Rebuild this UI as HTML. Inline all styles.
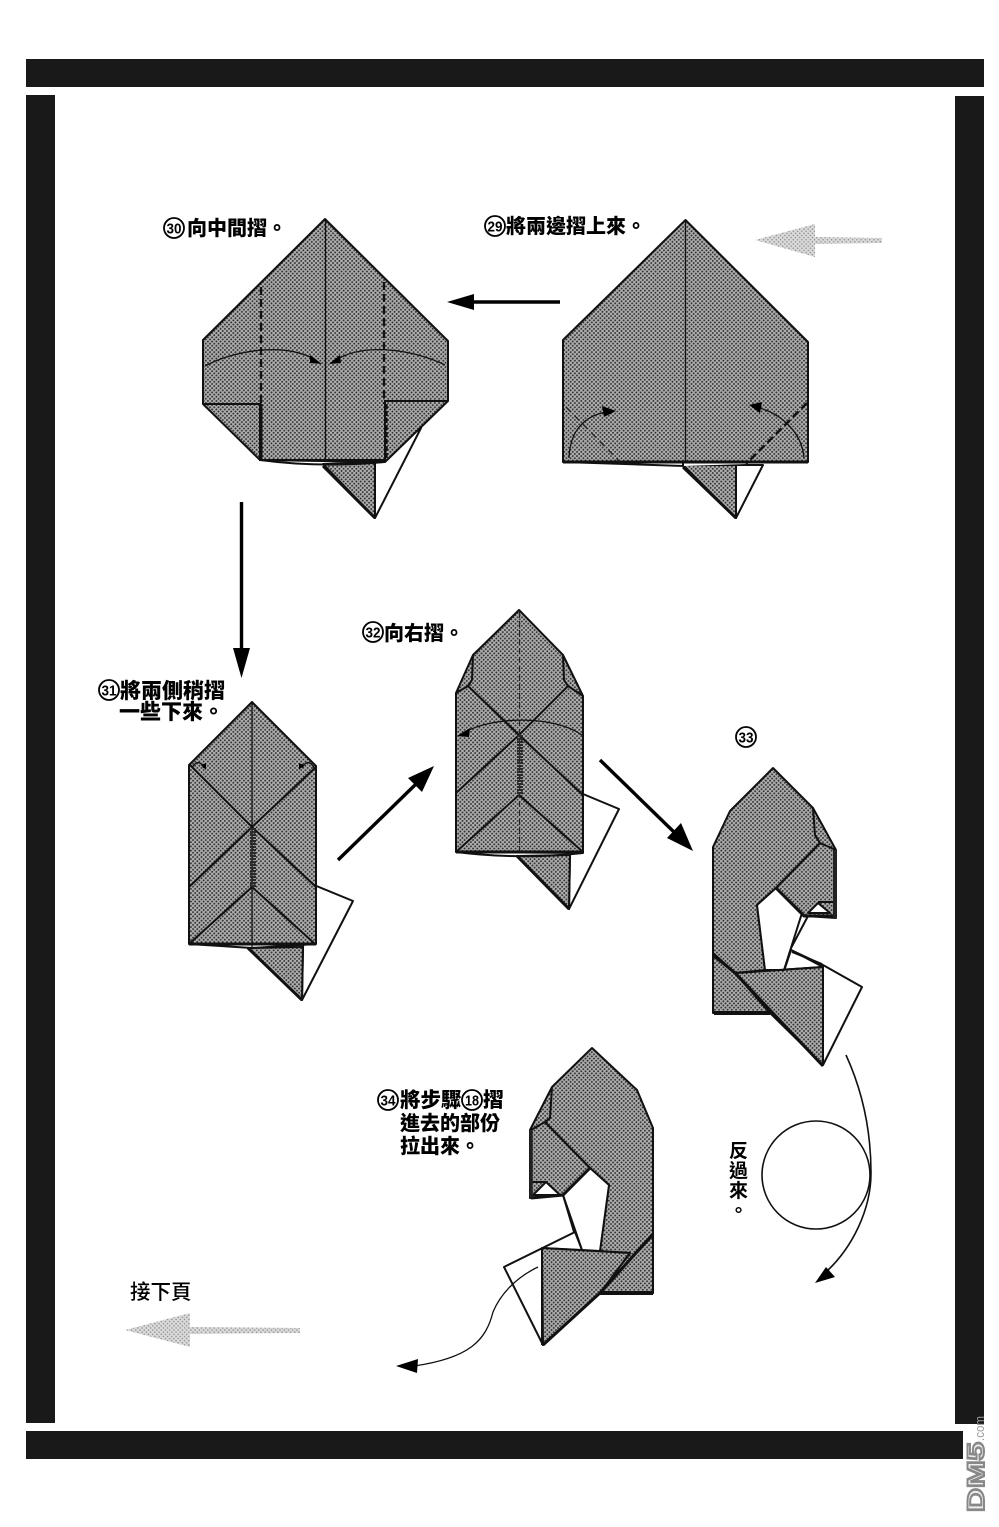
<!DOCTYPE html>
<html><head><meta charset="utf-8"><style>
html,body{margin:0;padding:0;background:#fff}
svg{display:block}
text{font-family:"Liberation Sans","Noto Sans CJK TC","Noto Sans CJK JP",sans-serif;font-weight:900;font-size:20px;fill:#000}
text.n{font-family:"Liberation Sans",sans-serif;font-weight:700;font-size:15px;text-anchor:middle}
.c{fill:#fff;stroke:#000;stroke-width:1.8}
.o{fill:url(#h);stroke:#111;stroke-width:2;stroke-linejoin:round}
.w{fill:#fff;stroke:#111;stroke-width:2;stroke-linejoin:round}
.l{fill:none;stroke:#111;stroke-width:2}
.t{fill:none;stroke:#111;stroke-width:1.3}
.d{fill:none;stroke:#111;stroke-width:2.4;stroke-dasharray:8 4}
.b{fill:none;stroke:#111;stroke-width:4}
.a{fill:none;stroke:#000;stroke-width:3.4}
.f{fill:#000}
.g{fill:url(#g2)}
</style></head><body>
<svg width="999" height="1527" viewBox="0 0 999 1527" xmlns="http://www.w3.org/2000/svg">
<defs>
<pattern id="h" width="3" height="3" patternUnits="userSpaceOnUse" patternTransform="rotate(45)">
<rect width="3" height="3" fill="#b0b0b0"/><circle cx="1.5" cy="1.5" r=".95" fill="#2a2a2a"/></pattern>
<pattern id="g2" width="3" height="3" patternUnits="userSpaceOnUse" patternTransform="rotate(45)">
<rect width="3" height="3" fill="#dcdcdc"/><circle cx="1.5" cy="1.5" r=".8" fill="#888"/></pattern>
</defs>
<rect width="999" height="1527" fill="#fff"/>
<!-- frame -->
<rect x="26" y="59" width="958" height="28" fill="#191919"/>
<rect x="26" y="95" width="29" height="1328" fill="#191919"/>
<rect x="955" y="96" width="29" height="1328" fill="#191919"/>
<rect x="26" y="1431" width="937" height="28" fill="#191919"/>

<!-- gray arrows -->
<polygon class="g" points="755,240 815,224 815,237 882,238 882,243 815,244 815,257"/>
<polygon class="g" points="125,1330 190,1313 190,1327 300,1328 300,1333 190,1334 190,1347"/>

<!-- step 29 -->
<g>
<polygon class="w" points="736,465 763,465 736,518"/>
<polygon class="o" points="683,465 736,465 736,518"/>
<path class="b" d="M683,467 L736,518" style="stroke-width:3"/>
<polygon class="w" points="563,462 683,466 808,462" style="stroke:none"/>
<path class="l" d="M563,462 L683,466 L683,462"/>
<polygon class="o" points="685.5,220 808,342 808,462 563,462 563,340"/>
<path class="t" d="M685.5,220 V462"/>
<path class="l" d="M563,462 H808" style="stroke-width:3"/>
<path d="M566,407 L620,462" fill="none" stroke="#222" stroke-width="1.4" stroke-dasharray="7 5"/>
<path d="M807,403 L746,464" class="d"/>
<path class="t" d="M569,458 C570,430 585,416 606,412"/>
<polygon class="f" points="616,411 602,406 604,417"/>
<path class="t" d="M804,458 C802,432 780,412 755,407"/>
<polygon class="f" points="749,405 762,402 760,413"/>
</g>

<!-- step 30 -->
<g>
<polygon class="w" points="375,462 421,428 375,518"/>
<polygon class="o" points="323,464 375,462 375,518"/>
<path class="b" d="M323,466 L375,518" style="stroke-width:3"/>
<path class="l" d="M260,460 Q320,468 385,462"/>
<polygon class="o" points="325,219 448,341 448,401 385,462 260,460 203,404 203,340"/>
<path class="t" d="M325.5,219 V462"/>
<path class="l" d="M203,404 H260 V460 H385 V401 H448"/>
<path class="d" d="M261,287 V404"/>
<path class="d" d="M384,282 V404"/>
<path class="d" d="M261,404 V460" style="stroke-dasharray:none;stroke-width:3"/>
<path class="d" d="M386,404 V460" style="stroke-dasharray:5 2;stroke-width:3.4"/>
<path class="t" d="M205,366 C235,350 285,342 316,360"/>
<polygon class="f" points="322,364 310,355 310,363"/>
<path class="t" d="M445,365 C415,350 365,342 336,360"/>
<polygon class="f" points="329,364 340,355 341,363"/>
</g>

<!-- step 31 -->
<g>
<polygon class="w" points="314,885 353,901 302,1000 303,947"/>
<polygon class="o" points="248,948 303,947 302,1000"/>
<path class="b" d="M248,948 L302,1000" style="stroke-width:3"/>
<path class="l" d="M189,944 L252,948 L316,944"/>
<polygon class="o" points="252,702 316,766 316,944 189,944 189,765"/>
<path class="t" d="M252,702 V947"/>
<path class="l" d="M190,765 L252,827 L316,887"/>
<path class="l" d="M316,767 L252,827 L189,887"/>
<path class="l" d="M252,887 L190,943 M252,887 L314,943"/>
<path d="M253,828 V887" stroke="#2a2a2a" stroke-width="6" stroke-dasharray="2 1" fill="none"/>
<path class="l" d="M189,944 H316" style="stroke-width:3"/>
<path class="t" d="M192,768 Q198,757 204,768 M314,768 Q308,757 302,768"/>
<polygon class="f" points="206,770 201,765 206,763"/>
<polygon class="f" points="299,770 304,765 299,763"/>
</g>

<!-- step 32 -->
<g>
<polygon class="w" points="583,794 619,809 569,909 570,855"/>
<polygon class="o" points="517,856 570,855 569,909"/>
<path class="b" d="M517,856 L569,909" style="stroke-width:3"/>
<path class="l" d="M456,852 Q520,860 583,853"/>
<polygon class="o" points="519,610 563,655 583,696 583,853 456,852 456,693 473,655"/>
<path class="l" d="M473,655 L472,680 L468,686 L456,693 M563,655 L564,680 L568,686 L583,696"/>
<path class="l" d="M468,686 L519,735 L583,795"/>
<path class="l" d="M568,686 L519,735 L456,793"/>
<path class="l" d="M519,795 L456,852 M519,795 L583,852"/>
<path d="M519.5,612 V856" stroke="#222" stroke-width="1.2" stroke-dasharray="6 3" fill="none"/>
<path d="M520,735 V795" stroke="#2a2a2a" stroke-width="6" stroke-dasharray="2 1" fill="none"/>
<path class="l" d="M456,852 H583" style="stroke-width:3"/>
<path class="t" d="M582,735 C555,716 495,715 463,733"/>
<polygon class="f" points="457,736 470,728 469,737"/>
</g>

<!-- step 33 -->
<g>
<polygon class="w" points="791,950 823,965 862,987 823,1065 823,967"/>
<polygon class="w" points="791,950 784,971 823,967"/>
<path class="l" d="M792,952 L822,964"/>
<path class="w" d="M802,914 L808,916 L790,950 L785,948 Z"/>
<polygon class="o" points="773,768 813,808 836,850 836,918 805,916 776,888 757,905 765,970 735,973 713,953 713,847 730,811"/>
<polygon class="o" points="713,953 735,973 770,1013 713,1013"/>
<polygon class="o" points="735,973 823,967 823,1065 770,1013"/>
<path class="w" d="M776,888 L757,905 L765,970 L784,970 L802,913 Z"/>
<path class="b" d="M776,888 L804,916 H836" style="stroke-width:3"/>
<path class="l" d="M776,888 L820,843"/>
<path class="w" d="M808,913 L818,903 L830,913 Z"/>
<path class="l" d="M818,902 H836"/>
<path class="l" d="M813,808 L815,835 L820,843 L836,850"/>
<path d="M835,850 V918" stroke="#222" stroke-width="4" fill="none"/>
<path class="b" d="M713,955 L735,973 L823,1066" style="stroke-width:3"/>
<path d="M714,1013 H770" stroke="#111" stroke-width="4" fill="none"/>
<path class="l" d="M735,973 L823,967"/>
<path class="l" d="M823,967 V1065"/>
</g>

<!-- step 34 -->
<g>
<polygon class="w" points="504,1267 575,1232 582,1250 542,1248 543,1345"/>
<path class="w" d="M563,1195 L568,1195 L578,1230 L574,1232 Z"/>
<polygon class="o" points="592,1048 637,1090 653,1128 653,1293 600,1293 630,1253 600,1251 609,1185 590,1168 563,1195 530,1198 530,1130 552,1087"/>
<polygon class="w" points="590,1168 609,1185 600,1251 582,1250 563,1195"/>
<polygon class="o" points="653,1235 653,1293 600,1293"/>
<polygon class="o" points="542,1248 630,1253 600,1293 543,1345"/>
<path class="b" d="M590,1168 L563,1195 L531,1198" style="stroke-width:3"/>
<path class="l" d="M590,1168 L545,1122 L531,1130 M552,1087 L550,1118 L545,1122"/>
<path class="w" d="M533,1195 L546,1182 L560,1195 Z"/>
<path class="l" d="M531,1182 H546"/>
<path d="M531,1130 V1198" stroke="#222" stroke-width="3.4" fill="none"/>
<path class="b" d="M653,1234 L600,1293 L543,1345" style="stroke-width:3"/>
<path d="M600,1293 H653" stroke="#111" stroke-width="4" fill="none"/>
<path class="l" d="M653,1128 V1293"/>
<path class="l" d="M542,1248 V1345"/>
<path class="t" d="M538,1267 C515,1278 500,1295 493,1312 C486,1340 470,1358 414,1366"/>
<polygon class="f" points="396,1366 418,1359 417,1373"/>
</g>

<!-- black arrows -->
<path class="a" d="M560,302 H470"/><polygon class="f" points="447,302 474,294 474,310"/>
<path class="a" d="M241.5,502 V652"/><polygon class="f" points="241.5,678 233,648 250,648"/>
<path class="a" d="M338,860 L416,784"/><polygon class="f" points="434,766 422,792 408,778"/>
<path class="a" d="M600,760 L676,834"/><polygon class="f" points="693,851 667,838 681,823"/>
<path class="t" style="stroke-width:1.6" d="M846,1055 C862,1090 871,1130 871,1173 C871,1210 852,1248 826,1272"/>
<polygon class="f" points="815,1283 826,1267 835,1277"/>
<circle cx="816" cy="1175" r="54" fill="none" stroke="#111" stroke-width="1.6"/>

<!-- labels -->
<circle class="c" cx="174" cy="228" r="10"/><text class="n" x="174" y="233.500" textLength="15" lengthAdjust="spacingAndGlyphs">30</text>
<text x="187" y="235">向中間摺。</text>
<circle class="c" cx="495" cy="226" r="10"/><text class="n" x="495" y="231.500" textLength="15" lengthAdjust="spacingAndGlyphs">29</text>
<text x="506" y="233">將兩邊摺上來。</text>
<circle class="c" cx="109" cy="690" r="10"/><text class="n" x="109" y="695.500" textLength="15" lengthAdjust="spacingAndGlyphs">31</text>
<text x="120" y="698" style="font-size:21px">將兩側稍摺</text>
<text x="119" y="719" style="font-size:21px">一些下來。</text>
<circle class="c" cx="373" cy="632" r="10"/><text class="n" x="373" y="637.500" textLength="15" lengthAdjust="spacingAndGlyphs">32</text>
<text x="384" y="640">向右摺。</text>
<circle class="c" cx="746" cy="737" r="10"/><text class="n" x="746" y="742.500" textLength="15" lengthAdjust="spacingAndGlyphs">33</text>
<circle class="c" cx="388" cy="1100" r="10"/><text class="n" x="388" y="1105.500" textLength="15" lengthAdjust="spacingAndGlyphs">34</text>
<text x="400" y="1107" style="font-size:20.500px">將步驟</text>
<circle class="c" cx="472" cy="1100" r="10"/><text class="n" x="472" y="1105.500" textLength="14" lengthAdjust="spacingAndGlyphs">18</text>
<text x="483" y="1107" style="font-size:20.500px">摺</text>
<text x="400" y="1130">進去的部份</text>
<text x="400" y="1153">拉出來。</text>
<text x="130" y="1299" style="font-weight:500;font-size:20.500px">接下頁</text>
<text x="729" y="1157" style="font-weight:700;font-size:19px">反</text>
<text x="729" y="1177" style="font-weight:700;font-size:19px">過</text>
<text x="729" y="1197" style="font-weight:700;font-size:19px">來</text>
<text x="729" y="1217" style="font-weight:700;font-size:19px">。</text>

<!-- watermark -->
<text transform="translate(984,1512) rotate(-90)" textLength="70" lengthAdjust="spacingAndGlyphs" style="font-size:24px;font-weight:700;fill:#eee;stroke:#888;stroke-width:2">DM5</text>
<text transform="translate(984,1441) rotate(-90)" textLength="25" lengthAdjust="spacingAndGlyphs" style="font-size:13px;font-weight:400;fill:#999">.com</text>
</svg>
</body></html>
